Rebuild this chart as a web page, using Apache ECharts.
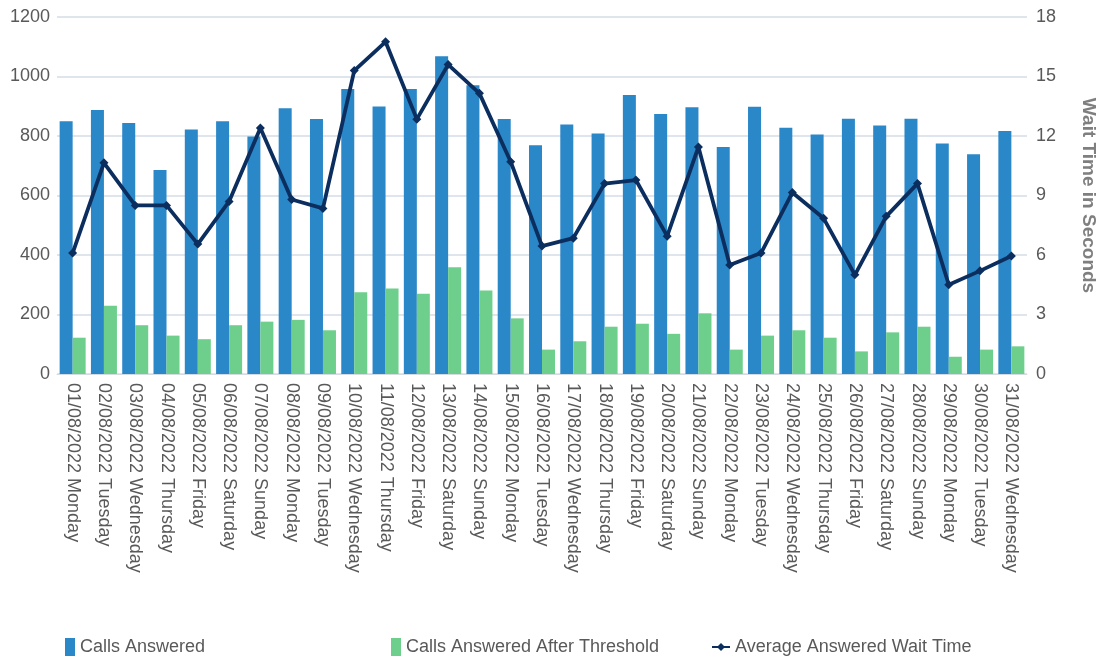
<!DOCTYPE html>
<html><head><meta charset="utf-8">
<script src="https://cdn.jsdelivr.net/npm/echarts@6/dist/echarts.min.js"></script>
<style>html,body{margin:0;padding:0;background:#fff}#c{width:1106px;height:659px}</style>
</head><body><div id="c"></div>
<script>
const dates = ["01/08/2022 Monday","02/08/2022 Tuesday","03/08/2022 Wednesday","04/08/2022 Thursday","05/08/2022 Friday","06/08/2022 Saturday","07/08/2022 Sunday","08/08/2022 Monday","09/08/2022 Tuesday","10/08/2022 Wednesday","11/08/2022 Thursday","12/08/2022 Friday","13/08/2022 Saturday","14/08/2022 Sunday","15/08/2022 Monday","16/08/2022 Tuesday","17/08/2022 Wednesday","18/08/2022 Thursday","19/08/2022 Friday","20/08/2022 Saturday","21/08/2022 Sunday","22/08/2022 Monday","23/08/2022 Tuesday","24/08/2022 Wednesday","25/08/2022 Thursday","26/08/2022 Friday","27/08/2022 Saturday","28/08/2022 Sunday","29/08/2022 Monday","30/08/2022 Tuesday","31/08/2022 Wednesday"];
const callsAnswered = [850,887,844,686,822,850,798,893,857,958,899,958,1068,971,857,769,839,808,938,874,897,763,898,828,805,858,835,858,775,739,817];
const callsAfterThreshold = [122,229,164,129,117,164,176,182,147,275,287,270,359,281,187,82,110,159,169,135,204,82,129,147,122,76,140,159,58,82,93];
const avgWaitTime = [6.1,10.65,8.5,8.5,6.55,8.7,12.4,8.8,8.35,15.3,16.75,12.85,15.6,14.15,10.7,6.45,6.85,9.6,9.78,6.95,11.45,5.5,6.1,9.15,7.85,5.0,7.95,9.6,4.5,5.2,5.95];
const leftTicks = {min:0, max:1200, interval:200};
const rightTicks = {min:0, max:18, interval:3};

const FONT = 'Liberation Sans, Arial, sans-serif';
const chart = echarts.init(document.getElementById('c'), null, {renderer:'canvas'});
const legendText = {color:'#595959', fontSize:18, fontFamily:FONT};
chart.setOption({
  animation:false,
  backgroundColor:'#ffffff',
  grid:{left:57, right:79, top:17, bottom:285, containLabel:false},
  legend:[
    {data:['Calls Answered'], left:60, top:633, itemWidth:10, itemHeight:18, textStyle:legendText, icon:'rect'},
    {data:['Calls Answered After Threshold'], left:386, top:633, itemWidth:10, itemHeight:18, textStyle:legendText, icon:'rect'},
    {data:['Average Answered Wait Time'], left:706, top:633, itemWidth:18, itemHeight:10, textStyle:legendText}
  ],
  xAxis:{type:'category', data:dates,
    axisLine:{show:true, lineStyle:{color:'#d5dbe3', width:1}},
    axisTick:{show:false},
    axisLabel:{rotate:-90, fontSize:18, color:'#595959', fontFamily:FONT, margin:9, interval:0}
  },
  yAxis:[
    {type:'value', min:leftTicks.min, max:leftTicks.max, interval:leftTicks.interval,
     axisLine:{show:false}, axisTick:{show:false},
     axisLabel:{fontSize:18, color:'#595959', fontFamily:FONT, margin:7, formatter:v=>String(v)},
     splitLine:{lineStyle:{color:'#d5dde6', width:1.5}}},
    {type:'value', min:rightTicks.min, max:rightTicks.max, interval:rightTicks.interval, position:'right',
     axisLine:{show:false}, axisTick:{show:false},
     axisLabel:{fontSize:18, color:'#595959', fontFamily:FONT, margin:9},
     splitLine:{show:false},
     name:'Wait Time in Seconds', nameLocation:'middle', nameRotate:-90, nameGap:52,
     nameTextStyle:{fontSize:19, fontWeight:'bold', color:'#7f7f7f', fontFamily:FONT}}
  ],
  series:[
    {name:'Calls Answered', type:'bar', data:callsAnswered, yAxisIndex:0,
     itemStyle:{color:'#2a87c8'}, barWidth:13, barGap:'0%'},
    {name:'Calls Answered After Threshold', type:'bar', data:callsAfterThreshold, yAxisIndex:0,
     itemStyle:{color:'#6dcf8b'}, barWidth:13, barGap:'0%'},
    {name:'Average Answered Wait Time', type:'line', data:avgWaitTime, yAxisIndex:1,
     lineStyle:{color:'#0b2e5e', width:3.8}, itemStyle:{color:'#0b2e5e'},
     symbol:'diamond', symbolSize:9, showSymbol:true, z:5}
  ]
});
</script></body></html>
